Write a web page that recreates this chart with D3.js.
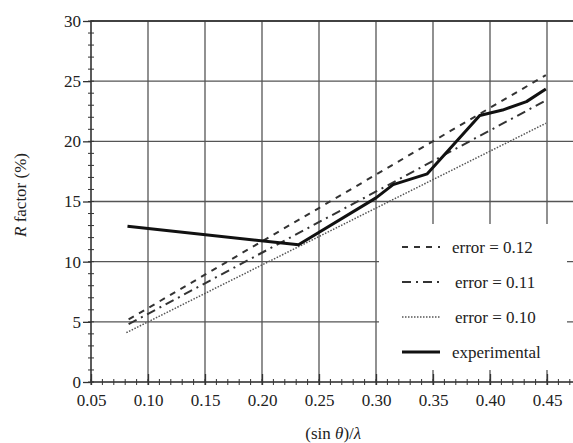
<!DOCTYPE html>
<html>
<head>
<meta charset="utf-8">
<script src="https://cdn.jsdelivr.net/npm/d3@7"></script>
<style>
  body { margin: 0; background: #fff; }
  text { font-family: "Liberation Serif", "Times New Roman", serif; fill: #222; }
</style>
</head>
<body>
<svg id="chart" width="573" height="443"></svg>
<script>
// values
const expX = [0.082, 0.232, 0.300, 0.315, 0.345, 0.391, 0.411, 0.432, 0.449]
const expY = [12.95, 11.4, 15.3, 16.4, 17.3, 22.15, 22.6, 23.3, 24.35]
const err12 = [[0.083, 5.2], [0.449, 25.5]]
const err11 = [[0.083, 4.8], [0.449, 23.4]]
const err10 = [[0.081, 4.1], [0.449, 21.5]]
const xTicks = [0.05, 0.10, 0.15, 0.20, 0.25, 0.30, 0.35, 0.40, 0.45]
const yTicks = [0, 5, 10, 15, 20, 25, 30]
const legendLabels = ['error = 0.12', 'error = 0.11', 'error = 0.10', 'experimental']

const svg = d3.select('#chart')
const mLeft = 91, mTop = 21, mRight = 575.5, mBottom = 382

const x = d3.scaleLinear().domain([0.05, 0.475]).range([mLeft, mRight])
const y = d3.scaleLinear().domain([0, 30]).range([mBottom, mTop])

// grid
const grid = svg.append('g').attr('stroke', '#555').attr('stroke-width', 1.3)
grid.selectAll('.gx').data(xTicks.slice(1)).enter().append('line')
  .attr('x1', d => x(d)).attr('x2', d => x(d))
  .attr('y1', mTop).attr('y2', mBottom)
grid.selectAll('.gy').data(yTicks.slice(1)).enter().append('line')
  .attr('x1', mLeft).attr('x2', mRight)
  .attr('y1', d => y(d)).attr('y2', d => y(d))

// frame
svg.append('rect').attr('x', mLeft).attr('y', mTop)
  .attr('width', mRight - mLeft).attr('height', mBottom - mTop)
  .attr('fill', 'none').attr('stroke', '#333').attr('stroke-width', 1.6)

// minor ticks
const minorX = d3.range(5, 48).map(d => d / 100)
svg.append('g').selectAll('line').data(minorX).enter().append('line')
  .attr('x1', d => x(d)).attr('x2', d => x(d))
  .attr('y1', mBottom - 3).attr('y2', mBottom + 3)
  .attr('stroke', '#333').attr('stroke-width', 1)
const minorY = d3.range(0, 31)
svg.append('g').selectAll('line').data(minorY).enter().append('line')
  .attr('x1', mLeft - 3).attr('x2', mLeft + 3)
  .attr('y1', d => y(d)).attr('y2', d => y(d))
  .attr('stroke', '#333').attr('stroke-width', 1)

// axes
const xAxis = svg.append('g').attr('transform', `translate(0,${mBottom})`)
  .call(d3.axisBottom(x).tickValues(xTicks).tickFormat(d3.format('.2f')).tickSize(3).tickPadding(9))
xAxis.select('.domain').remove()
xAxis.selectAll('.tick line').attr('y1', -8).attr('stroke', '#333').attr('stroke-width', 1.3)
xAxis.selectAll('text').attr('font-size', 17).attr('fill', '#222')

const yAxis = svg.append('g').attr('transform', `translate(${mLeft},0)`)
  .call(d3.axisLeft(y).tickValues(yTicks).tickSize(8).tickPadding(2))
yAxis.select('.domain').remove()
yAxis.selectAll('.tick line').attr('stroke', '#333').attr('stroke-width', 1.3)
yAxis.selectAll('text').attr('font-size', 17).attr('fill', '#222')

// axis titles
const xt = svg.append('text').attr('x', (mLeft + mRight) / 2).attr('y', 439)
  .attr('text-anchor', 'middle').attr('font-size', 17)
xt.append('tspan').text('(sin ')
xt.append('tspan').attr('font-style', 'italic').text('θ')
xt.append('tspan').text(')/')
xt.append('tspan').attr('font-style', 'italic').text('λ')

const yt = svg.append('text').attr('transform', 'translate(26,195) rotate(-90)')
  .attr('text-anchor', 'middle').attr('font-size', 17)
yt.append('tspan').attr('font-style', 'italic').text('R')
yt.append('tspan').text(' factor (%)')

// series
const line = d3.line().x(d => x(d[0])).y(d => y(d[1]))
const styles = [
  { data: err12, dash: '6,6', w: 2, c: '#333' },
  { data: err11, dash: '9,5,2,5', w: 2, c: '#333' },
  { data: err10, dash: '1.5,1.5', w: 1.5, c: '#555' },
  { data: expX.map((d, i) => [d, expY[i]]), dash: null, w: 3, c: '#111' }
]

// legend box (white, hides grid)
svg.append('rect').attr('x', 379).attr('y', 224).attr('width', 188).attr('height', 146)
  .attr('fill', '#fff')

styles.forEach(s => {
  svg.append('path').datum(s.data).attr('d', line)
    .attr('fill', 'none').attr('stroke', s.c).attr('stroke-width', s.w)
    .attr('stroke-dasharray', s.dash).attr('stroke-linejoin', 'round')
})

const legend = svg.append('g')
legendLabels.forEach((lab, i) => {
  const ly = 247 + i * 35
  legend.append('line').attr('x1', 402).attr('x2', 440).attr('y1', ly).attr('y2', ly)
    .attr('stroke', styles[i].c).attr('stroke-width', styles[i].w)
    .attr('stroke-dasharray', styles[i].dash)
  legend.append('text').attr('x', i === 1 || i === 2 ? 455 : 452)
    .attr('y', ly + 6).attr('font-size', 17).text(lab)
})
</script>
</body>
</html>
